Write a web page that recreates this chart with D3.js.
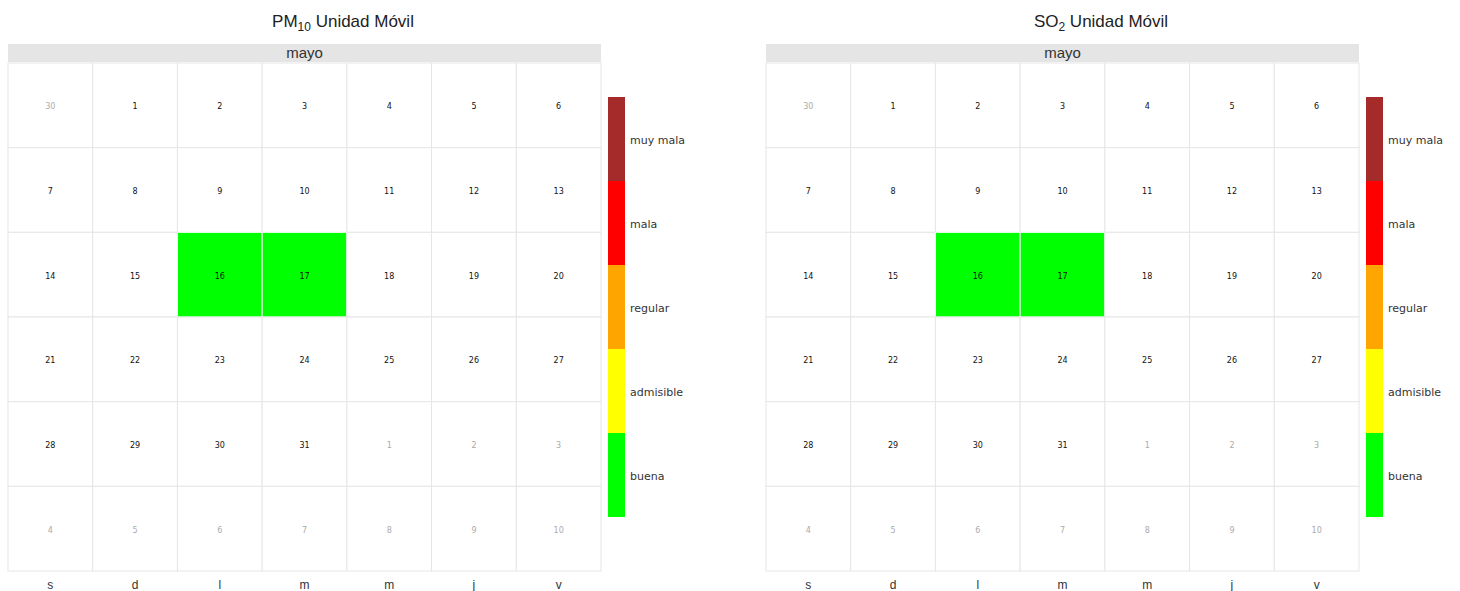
<!DOCTYPE html>
<html>
<head>
<meta charset="utf-8">
<script src="https://cdn.jsdelivr.net/npm/d3@7"></script>
<style>
  body { margin: 0; background: #fff; font-family: "Liberation Sans", Arial, sans-serif; }
</style>
</head>
<body>
<div class="root"></div>
<script>

// data
var weekdays   = ['s', 'd', 'l', 'm', 'm', 'j', 'v'];
var monthName  = 'mayo';
var categories = ['buena', 'admisible', 'regular', 'mala', 'muy mala'];
var catColors  = ['#00ff00', '#ffff00', '#ffa500', '#ff0000', '#a52a2a'];

var pm10Days   = ['2022-05-16', '2022-05-17'];
var pm10Cats   = ['buena', 'buena'];
var so2Days    = ['2022-05-16', '2022-05-17'];
var so2Cats    = ['buena', 'buena'];

var canvasWidth = 1460,
    canvasHeight = 591;

var svg = d3.select('.root')
            .append('svg')
            .attr('width', canvasWidth)
            .attr('height', canvasHeight);

var parse = d3.timeParse('%Y-%m-%d');
var startDate = parse('2022-04-30'),
    endDate   = parse('2022-06-11');
var allDays = d3.timeDay.range(startDate, endDate);

var colorScale = d3.scaleOrdinal().domain(categories).range(catColors);

function drawPanel(offsetX, title, sub, days, cats) {
  var g = svg.append('g').attr('transform', 'translate(' + offsetX + ',0)');

  var gridLeft = 8, gridRight = 601, gridTop = 63, gridBottom = 571;

  var xScale = d3.scaleBand().domain(d3.range(7)).range([gridLeft, gridRight]);
  var yScale = d3.scaleBand().domain(d3.range(6)).range([gridTop, gridBottom]);

  var lookup = {};
  days.forEach(function (d, i) { lookup[d] = cats[i]; });

  // title
  var t = g.append('text')
           .attr('x', 343)
           .attr('y', 27)
           .attr('text-anchor', 'middle')
           .style('font-size', '17px')
           .style('fill', '#222');
  t.append('tspan').text(title);
  t.append('tspan').attr('dy', 4).style('font-size', '12px').text(sub);
  t.append('tspan').attr('dy', -4).text(' Unidad Móvil');

  // month strip
  g.append('rect')
   .attr('x', gridLeft)
   .attr('y', 44)
   .attr('width', gridRight - gridLeft)
   .attr('height', gridTop - 44 - 1)
   .style('fill', '#e5e5e5');

  g.append('text')
   .attr('x', (gridLeft + gridRight) / 2)
   .attr('y', 58)
   .attr('text-anchor', 'middle')
   .style('font-size', '15px')
   .style('fill', '#333')
   .text(monthName);

  var cells = g.selectAll('.cell')
               .data(allDays)
               .enter()
               .append('g')
               .attr('class', 'cell');

  cells.append('rect')
       .attr('x', (d, i) => xScale(i % 7))
       .attr('y', (d, i) => yScale(Math.floor(i / 7)))
       .attr('width', xScale.bandwidth())
       .attr('height', yScale.bandwidth())
       .style('fill', function (d) {
         var key = d3.timeFormat('%Y-%m-%d')(d);
         return lookup[key] ? colorScale(lookup[key]) : '#ffffff';
       })
       .style('stroke', function (d) {
         var key = d3.timeFormat('%Y-%m-%d')(d);
         return lookup[key] ? '#ffffff' : '#e6e6e6';
       })
       .style('stroke-width', '1px');

  cells.append('text')
       .attr('x', (d, i) => xScale(i % 7) + xScale.bandwidth() / 2)
       .attr('y', (d, i) => yScale(Math.floor(i / 7)) + yScale.bandwidth() / 2 + 4)
       .attr('text-anchor', 'middle')
       .style('font-size', '8px')
       .style('font-family', '"DejaVu Sans", sans-serif')
       .style('fill', d => d.getMonth() === 4 ? '#111' : '#aaa')
       .text(d => d.getDate());

  // weekday labels
  g.selectAll('.wd')
   .data(weekdays)
   .enter()
   .append('text')
   .attr('x', (d, i) => xScale(i) + xScale.bandwidth() / 2)
   .attr('y', 589)
   .attr('text-anchor', 'middle')
   .style('font-size', '12px')
   .style('fill', '#333')
   .text(d => d);

  // legend
  var legScale = d3.scaleBand()
                   .domain(categories.slice().reverse())
                   .range([97, 517]);

  var leg = g.selectAll('.leg')
             .data(categories)
             .enter()
             .append('g');

  leg.append('rect')
     .attr('x', 608)
     .attr('y', d => legScale(d))
     .attr('width', 17)
     .attr('height', legScale.bandwidth())
     .style('fill', d => colorScale(d));

  leg.append('text')
     .attr('x', 630)
     .attr('y', d => legScale(d) + legScale.bandwidth() / 2 + 5)
     .style('font-size', '11px')
     .style('font-family', '"DejaVu Sans", sans-serif')
     .style('fill', '#333')
     .text(d => d);
}

drawPanel(0, 'PM', '10', pm10Days, pm10Cats);
drawPanel(758, 'SO', '2', so2Days, so2Cats);

</script>
</body>
</html>
